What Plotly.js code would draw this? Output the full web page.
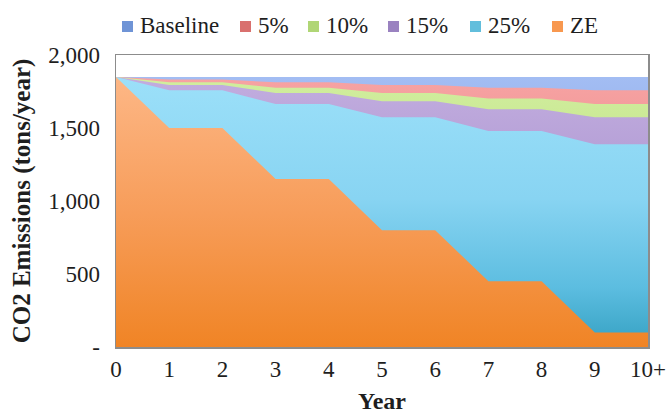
<!DOCTYPE html>
<html>
<head>
<meta charset="utf-8">
<script src="https://cdn.plot.ly/plotly-3.0.1.min.js"></script>
<style>html,body{margin:0;padding:0;background:#fff;}#chart{width:667px;height:414px;}</style>
</head>
<body>
<div id="chart"></div>
<script>
const years = [0, 1, 2, 3, 4, 5, 6, 7, 8, 9, 10];
const yearLabels = ["0", "1", "2", "3", "4", "5", "6", "7", "8", "9", "10+"];
const seriesNames = ["Baseline", "5%", "10%", "15%", "25%", "ZE"];
const baseline = [1850, 1850, 1850, 1850, 1850, 1850, 1850, 1850, 1850, 1850, 1850];
const cut5 = [1850, 1832, 1832, 1813, 1813, 1795, 1795, 1776, 1776, 1758, 1758];
const cut10 = [1850, 1813, 1813, 1776, 1776, 1739, 1739, 1702, 1702, 1665, 1665];
const cut15 = [1850, 1795, 1795, 1739, 1739, 1684, 1684, 1628, 1628, 1573, 1573];
const cut25 = [1850, 1758, 1758, 1665, 1665, 1573, 1573, 1480, 1480, 1388, 1388];
const ze = [1850, 1500, 1500, 1150, 1150, 800, 800, 450, 450, 100, 100];
const yTickVals = [0, 500, 1000, 1500, 2000];
const yTickText = ["-", "500", "1,000", "1,500", "2,000"];

const allSeries = [baseline, cut5, cut10, cut15, cut25, ze];
const gradients = [
  [[0, "#3f6fb8"], [0.5, "#86a6e6"], [1, "#a3bdf3"]],
  [[0, "#b8393a"], [0.5, "#e88a89"], [1, "#f7a3a3"]],
  [[0, "#8cb44a"], [0.5, "#bfe087"], [1, "#d1ee9e"]],
  [[0, "#6e5096"], [0.5, "#ad97d1"], [1, "#c2addf"]],
  [[0, "#35a1c2"], [0.22, "#5cbde0"], [0.55, "#88d4f2"], [1, "#9ce0f9"]],
  [[0, "#f08425"], [0.5, "#f79d5a"], [1, "#fdb786"]]
];
const legendColors = ["#6f94d6", "#d9706e", "#b0d676", "#9a82c0", "#62bedc", "#f8984f"];

const FONT = "'Liberation Serif', 'Times New Roman', serif";

const traces = allSeries.map((vals, i) => ({
  x: years,
  y: vals,
  name: seriesNames[i],
  type: "scatter",
  mode: "lines",
  line: {width: 0, color: legendColors[i]},
  fill: "tozeroy",
  fillcolor: legendColors[i],
  fillgradient: {
    type: "vertical",
    start: 0,
    stop: 1850,
    colorscale: gradients[i]
  },
  showlegend: false,
  hoverinfo: "x+y+name"
}));

// custom legend (pixel layout converted to paper coordinates)
const W = 667, H = 414;
const M = {l: 116, r: 19, t: 55, b: 67};
const pw = W - M.l - M.r, ph = H - M.t - M.b;
const px = v => (v - M.l) / pw;
const py = v => (H - M.b - v) / ph;
const legendMarkerX = [122, 240, 308, 388, 470, 552];
const shapes = [];
const annotations = [];
seriesNames.forEach((name, i) => {
  const x0 = legendMarkerX[i];
  shapes.push({
    type: "rect", xref: "paper", yref: "paper",
    x0: px(x0), x1: px(x0 + 11), y0: py(32), y1: py(21),
    fillcolor: legendColors[i], line: {width: 0}
  });
  annotations.push({
    xref: "paper", yref: "paper",
    x: px(x0 + 16), y: py(26),
    xanchor: "left", yanchor: "middle",
    text: name, showarrow: false,
    font: {family: FONT, size: 23, color: "#1e1e1e"}
  });
});

const layout = {
  width: W,
  height: H,
  margin: M,
  paper_bgcolor: "#ffffff",
  plot_bgcolor: "#ffffff",
  font: {family: FONT, size: 23, color: "#1e1e1e"},
  showlegend: false,
  shapes: shapes,
  annotations: annotations,
  xaxis: {
    range: [0, 10],
    tickvals: years,
    ticktext: yearLabels,
    showgrid: false,
    zeroline: false,
    showline: true,
    mirror: true,
    linecolor: "#8c8c8c",
    linewidth: 1.5,
    ticks: "",
    ticklabelstandoff: 1,
    tickfont: {family: FONT, size: 23, color: "#1e1e1e"},
    title: {text: "Year", font: {family: FONT, size: 24, color: "#1e1e1e", weight: "bold"}, standoff: 11}
  },
  yaxis: {
    range: [0, 2000],
    tickvals: yTickVals,
    ticktext: yTickText,
    showgrid: false,
    zeroline: false,
    showline: true,
    mirror: true,
    linecolor: "#8c8c8c",
    linewidth: 1.5,
    ticks: "",
    ticklabelstandoff: 10,
    tickfont: {family: FONT, size: 23, color: "#1e1e1e"},
    title: {text: "CO2 Emissions (tons/year)", font: {family: FONT, size: 25, color: "#1e1e1e", weight: "bold"}, standoff: 10}
  }
};

Plotly.newPlot("chart", traces, layout, {displayModeBar: false, staticPlot: true});
</script>
</body>
</html>
